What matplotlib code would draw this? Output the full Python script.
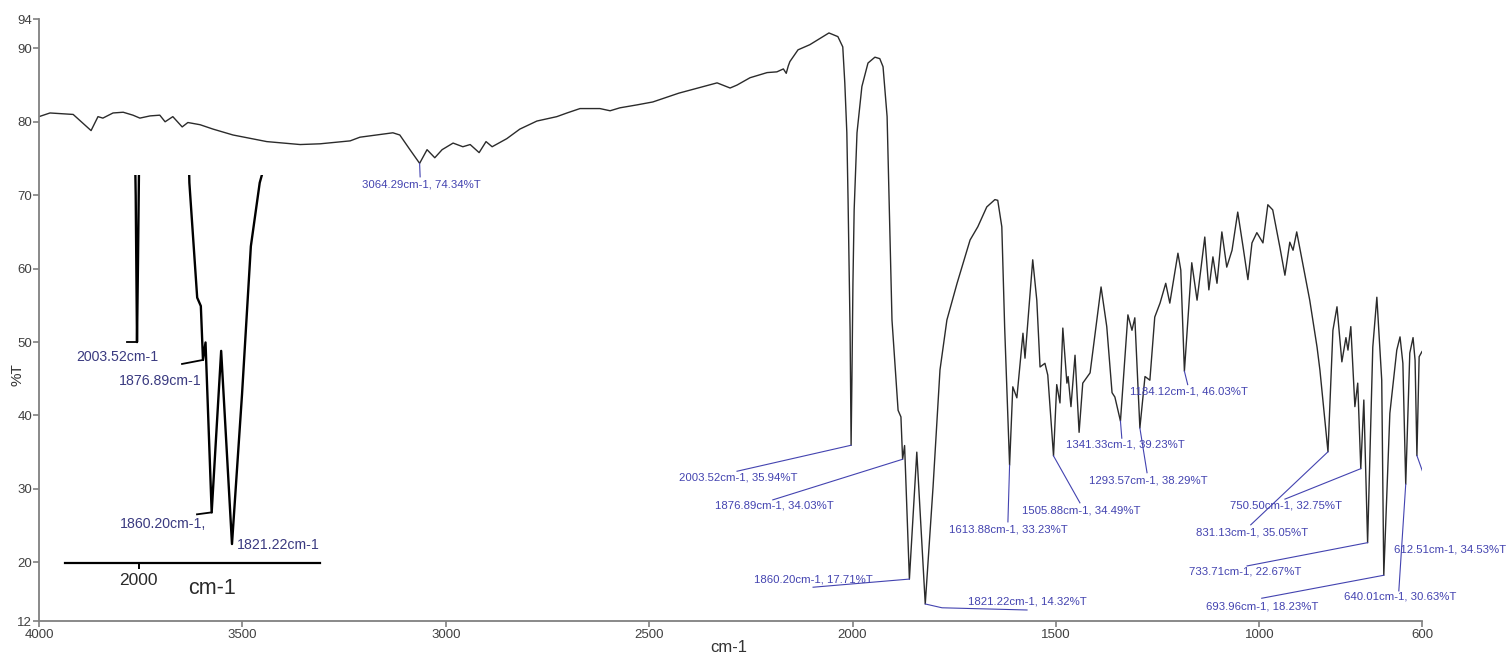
import matplotlib
matplotlib.use('Agg')
import matplotlib.pyplot as plt

plt.rcParams['font.family'] = ['Liberation Sans', 'DejaVu Sans']

# IR spectrum, wavenumber (cm-1) vs transmittance (%T)
wavenumber = [
    4000, 3973, 3916, 3892, 3872, 3855, 3843, 3818, 3793, 3769, 3752, 3727,
    3703, 3690, 3671, 3648, 3634, 3604, 3572, 3523, 3440, 3358, 3309, 3235,
    3211, 3130, 3113, 3088, 3064.29, 3046, 3027, 3009, 2982, 2958, 2940,
    2918, 2901, 2886, 2850, 2818, 2776, 2727, 2702, 2670, 2621, 2596, 2572,
    2530, 2491, 2427, 2333, 2301, 2284, 2252, 2210, 2186, 2170, 2163, 2158,
    2154, 2134, 2105, 2073, 2058, 2036, 2024, 2019, 2014, 2011, 2006,
    2003.52, 2001.5, 1999, 1996, 1989, 1977, 1962, 1945, 1933, 1925, 1915,
    1908, 1903, 1888, 1881, 1876.89, 1872, 1860.20, 1842, 1821.22, 1802,
    1785, 1768, 1743, 1711, 1692, 1670, 1650, 1643, 1633, 1626, 1613.88,
    1606, 1596, 1581, 1576, 1557, 1547, 1539, 1527, 1520, 1505.88, 1498,
    1490, 1483, 1473, 1470, 1463, 1453, 1443, 1434, 1416, 1389, 1375, 1362,
    1355, 1341.33, 1323, 1313, 1306, 1293.57, 1281, 1269, 1257, 1244, 1230,
    1220, 1200, 1193, 1184.12, 1166, 1153, 1134, 1124, 1114, 1104, 1092,
    1080, 1067, 1053, 1040, 1028, 1018, 1006, 991, 979, 967, 949, 937, 925,
    917, 908, 895, 876, 858, 851, 831.13, 819, 809, 797, 787, 782, 775, 765,
    758, 750.50, 743, 733.71, 721, 711, 699, 693.96, 679, 662, 654, 647,
    640.01, 630, 622, 617, 612.51, 607, 600,
]
transmittance = [
    80.7, 81.2, 81.0, 79.8, 78.8, 80.7, 80.5, 81.2, 81.3, 80.9, 80.5, 80.8,
    80.9, 80.0, 80.7, 79.3, 79.9, 79.6, 79.0, 78.2, 77.3, 76.9, 77.0, 77.4,
    77.9, 78.5, 78.2, 76.2, 74.34, 76.2, 75.1, 76.2, 77.1, 76.6, 76.9,
    75.8, 77.3, 76.6, 77.7, 79.0, 80.1, 80.7, 81.2, 81.8, 81.8, 81.5, 81.9,
    82.3, 82.7, 83.9, 85.3, 84.6, 85.0, 86.0, 86.7, 86.8, 87.2, 86.6, 87.6,
    88.2, 89.8, 90.5, 91.6, 92.1, 91.6, 90.2, 85.3, 78.5, 69.4, 51.6,
    35.94, 45.0, 58.0, 68.0, 78.5, 84.8, 88.0, 88.8, 88.6, 87.5, 80.7,
    64.9, 53.0, 40.7, 39.8, 34.03, 35.9, 17.71, 35.0, 14.32, 30.3,
    46.2, 53.0, 58.0, 63.9, 65.7, 68.4, 69.4, 69.3, 65.7, 52.0, 33.23,
    43.9, 42.4, 51.2, 47.8, 61.2, 55.7, 46.6, 47.1, 45.5, 34.49, 44.2,
    41.7, 51.9, 44.4, 45.3, 41.2, 48.2, 37.7, 44.4, 45.8, 57.5, 52.1, 43.1,
    42.5, 39.23, 53.7, 51.6, 53.3, 38.29, 45.3, 44.8, 53.4, 55.3, 58.0,
    55.3, 62.1, 59.8, 46.03, 60.8, 55.7, 64.3, 57.1, 61.6, 58.0, 65.0,
    60.2, 62.5, 67.7, 63.0, 58.5, 63.5, 64.9, 63.5, 68.7, 68.0, 62.8, 59.1, 63.6,
    62.5, 65.0, 61.2, 55.7, 49.3, 46.2, 35.05, 51.6, 54.8, 47.3, 50.6, 48.9, 52.1, 41.2,
    44.4, 32.75, 42.1, 22.67, 49.3, 56.1, 44.8, 18.23, 40.3, 48.9, 50.7, 47.1,
    30.63, 48.5, 50.6, 47.5, 34.53, 48.0, 48.7,
]

# picked peaks
peak_wn = [3064.29, 2003.52, 1876.89, 1860.20, 1821.22, 1613.88, 1505.88,
           1341.33, 1293.57, 1184.12, 831.13, 750.50, 733.71, 693.96,
           640.01, 612.51]
peak_t = [74.34, 35.94, 34.03, 17.71, 14.32, 33.23, 34.49, 39.23, 38.29,
          46.03, 35.05, 32.75, 22.67, 18.23, 30.63, 34.53]

# where each label sits and where its leader starts
label_xy = [(3061, 71.5), (2282, 31.6), (2193, 27.7), (2097, 17.7),
            (1571, 14.6), (1618, 24.4), (1438, 27.1), (1330, 36.1),
            (1274, 31.2), (1173, 43.3), (1018, 24.1), (935, 27.7),
            (1035, 18.7), (994, 14.0), (654, 15.3), (531, 21.7)]
leader_from = [(3063, 72.5), (2284, 32.4), (2196, 28.5), (2097, 16.6),
               (1571, 13.5), (1618, 25.5), (1441, 28.1), (1338, 36.9),
               (1276, 32.2), (1176, 44.2), (1021, 25.1), (937, 28.6),
               (1030, 19.5), (994, 15.1), (657, 16.1), (536, 22.6)]

# close-up of the carbonyl region
zoom_peaks = [2003.52, 1876.89, 1860.20, 1821.22]
zoom_labels = ['2003.52cm-1', '1876.89cm-1', '1860.20cm-1,', '1821.22cm-1']
zoom_label_xy = [(2041.9, 34.3), (1959.4, 31.8), (1953.6, 16.5), (1732.9, 14.2)]
zoom_stub_from = [(2022.7, 35.94), (1917.1, 33.6), (1888.4, 17.5), None]

blue = '#4343b0'
axis_grey = '#808080'

fig = plt.figure(figsize=(15.06, 6.55), dpi=100)
ax = fig.add_axes([39 / 1506, 34 / 655, 1383 / 1506, 602 / 655])

ax.plot(wavenumber, transmittance, color='#2b2b2b', lw=1.0)
ax.set_xlim(4000, 600)
ax.set_ylim(12, 94)
ax.set_xticks([4000, 3500, 3000, 2500, 2000, 1500, 1000, 600])
ax.set_yticks([12, 20, 30, 40, 50, 60, 70, 80, 90, 94])
ax.tick_params(colors=axis_grey, labelcolor='#404040', labelsize=9.5,
               length=4, width=1.2)
ax.tick_params(axis='x', pad=2)
ax.tick_params(axis='y', pad=1)
for side in ['top', 'right']:
    ax.spines[side].set_visible(False)
for side in ['left', 'bottom']:
    ax.spines[side].set_color(axis_grey)
    ax.spines[side].set_linewidth(1.3)

for i in range(len(peak_wn)):
    lx, ly = leader_from[i]
    if i == 4:
        ax.plot([peak_wn[i], 1780, lx], [peak_t[i], 13.8, ly], color=blue, lw=0.8)
    else:
        ax.plot([lx, peak_wn[i]], [ly, peak_t[i]], color=blue, lw=0.8)
    tx, ty = label_xy[i]
    ax.text(tx, ty, '%.2fcm-1, %.2f%%T' % (peak_wn[i], peak_t[i]),
            color=blue, fontsize=8.2, ha='center', va='center')

fig.text(729 / 1506, 1 - 647 / 655, 'cm-1', fontsize=12, color='#333333',
         ha='center', va='center')
fig.text(18 / 1506, 1 - 375 / 655, '%T', fontsize=11, color='#333333',
         rotation=90, ha='center', va='center')

# inset: enlarged copy of 2140-1650 cm-1
ins = fig.add_axes([65 / 1506, 92 / 655, 255 / 1506, 388 / 655])
ins.patch.set_alpha(0)
ins.plot(wavenumber, transmittance, color='black', lw=1.7)
ins.set_xlim(2141.7, 1652.3)
ins.set_ylim(12.29, 53.83)
for side in ['top', 'right', 'left']:
    ins.spines[side].set_visible(False)
ins.spines['bottom'].set_linewidth(1.6)
ins.set_yticks([])
ins.set_xticks([2000])
ins.tick_params(axis='x', length=4, width=1.4, labelsize=12.5,
                labelcolor='#2a2a2a', pad=3)

for i in range(len(zoom_peaks)):
    j = peak_wn.index(zoom_peaks[i])
    if zoom_stub_from[i] is not None:
        sx, sy = zoom_stub_from[i]
        ins.plot([sx, peak_wn[j]], [sy, peak_t[j]], color='black', lw=1.3)
    tx, ty = zoom_label_xy[i]
    ins.text(tx, ty, zoom_labels[i], color='#3a3a80', fontsize=10.2,
             ha='center', va='center', clip_on=False)

ins.text(0.576, -0.066, 'cm-1', transform=ins.transAxes, fontsize=15.5,
         color='#2a2a2a', ha='center', va='center')

fig.savefig('out.png', dpi=100)
